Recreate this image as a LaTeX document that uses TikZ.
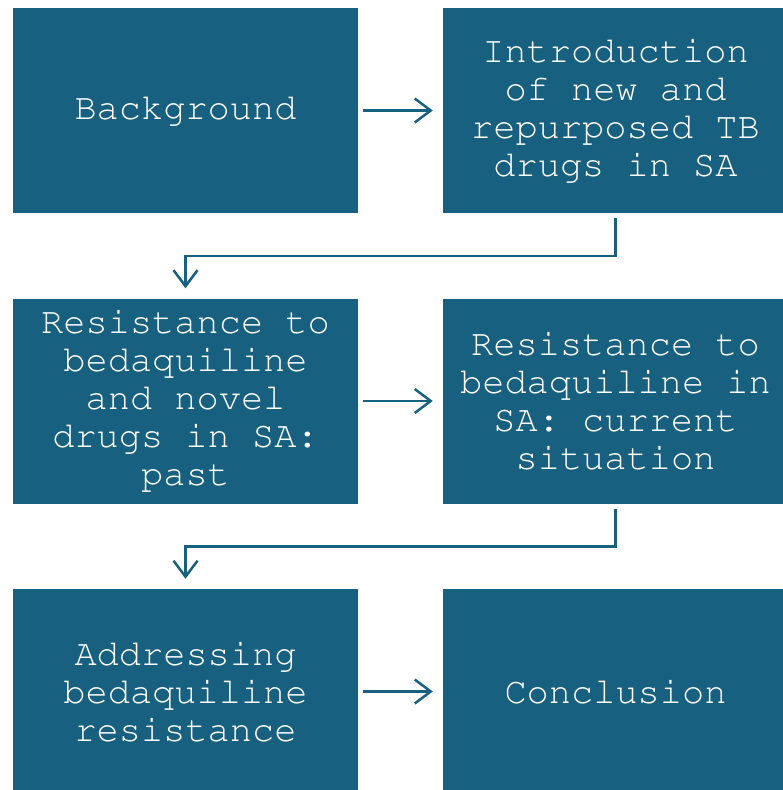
\documentclass[tikz,border=0pt]{standalone}
\usepackage[T1]{fontenc}
\usepackage{tikz}
\usetikzlibrary{arrows.meta}
\newcommand{\boxfont}{\fontencoding{T1}\fontfamily{pcr}\selectfont}
\definecolor{boxblue}{HTML}{186080}
\tikzset{
  stagebox/.style={fill=boxblue,text=white,minimum width=345pt,minimum height=205pt,
    inner sep=0pt,align=center,font=\boxfont\fontsize{37}{38}\selectfont},
  flow/.style={->,draw=boxblue,line width=2.5pt,shorten <=5pt,shorten >=10pt}
}

\begin{document}
\begin{tikzpicture}[x=1pt,y=-1pt,>={Straight Barb[length=16pt,width=24pt]}]
\useasboundingbox (0,0) rectangle (782,790);
\node[stagebox] (bg) at (185.5,110.5) {Background};
\node[stagebox] (intro) at (615.5,110.5) {Introduction\\of new and\\repurposed TB\\drugs in SA};
\node[stagebox] (past) at (185.5,401) {Resistance to\\bedaquiline\\and novel\\drugs in SA:\\past};
\node[stagebox] (current) at (615.5,401) {Resistance to\\bedaquiline in\\SA: current\\situation};
\node[stagebox] (addr) at (185.5,691.5) {Addressing\\bedaquiline\\resistance};
\node[stagebox] (concl) at (615.5,691.5) {Conclusion};

\draw[flow] (bg) -- (intro);
\draw[flow] (past) -- (current);
\draw[flow] (addr) -- (concl);
\draw[flow] (intro.south) -- ++(0,43) -| (past.north);
\draw[flow] (current.south) -- ++(0,43) -| (addr.north);
\end{tikzpicture}
\end{document}
